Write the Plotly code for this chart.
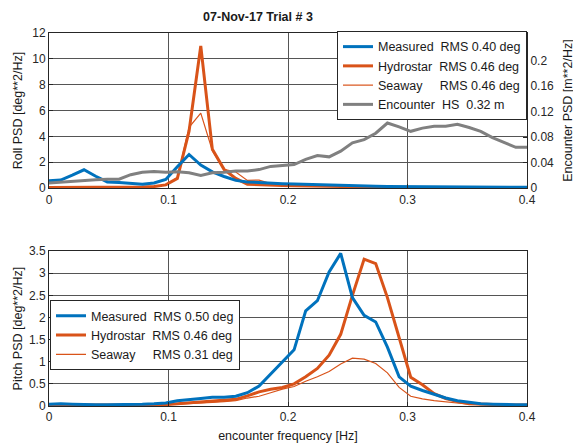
import plotly.graph_objects as go

# ---------------- data ----------------
freqs = [0.0000, 0.0098, 0.0195, 0.0293, 0.0391, 0.0488, 0.0586, 0.0684, 0.0781, 0.0879,
         0.0977, 0.1074, 0.1172, 0.1270, 0.1367, 0.1465, 0.1563, 0.1660, 0.1758, 0.1855,
         0.1953, 0.2051, 0.2148, 0.2246, 0.2344, 0.2441, 0.2539, 0.2637, 0.2734, 0.2832,
         0.2930, 0.3027, 0.3125, 0.3223, 0.3320, 0.3418, 0.3516, 0.3613, 0.3711, 0.3809,
         0.3906, 0.4004]

roll_measured = [0.57, 0.62, 1.00, 1.42, 0.92, 0.48, 0.43, 0.37, 0.30, 0.40,
                 0.67, 1.65, 2.60, 1.78, 1.26, 0.90, 0.60, 0.48, 0.42, 0.38,
                 0.34, 0.31, 0.28, 0.25, 0.22, 0.20, 0.18, 0.17, 0.15, 0.13,
                 0.12, 0.11, 0.10, 0.10, 0.09, 0.09, 0.08, 0.08, 0.07, 0.07,
                 0.07, 0.07]
roll_hydrostar = [0.05, 0.05, 0.06, 0.07, 0.07, 0.06, 0.06, 0.07, 0.09, 0.12,
                  0.25, 0.75, 4.40, 11.00, 3.00, 1.45, 0.75, 0.30, 0.25, 0.22,
                  0.20, 0.18, 0.17, 0.15, 0.14, 0.13, 0.12, 0.10, 0.05, 0.03,
                  0.03, 0.03, 0.02, 0.02, 0.02, 0.02, 0.02, 0.02, 0.02, 0.02,
                  0.02, 0.02]
roll_seaway = [0.08, 0.08, 0.10, 0.12, 0.12, 0.10, 0.08, 0.08, 0.09, 0.12,
               0.25, 0.80, 4.70, 5.80, 2.90, 1.45, 1.25, 0.60, 0.62, 0.35,
               0.28, 0.24, 0.22, 0.20, 0.18, 0.16, 0.15, 0.14, 0.13, 0.12,
               0.12, 0.11, 0.06, 0.04, 0.03, 0.03, 0.03, 0.03, 0.03, 0.03,
               0.03, 0.03]
encounter_psd = [0.008, 0.0095, 0.0105, 0.012, 0.013, 0.014, 0.014, 0.021, 0.025, 0.026,
                 0.025, 0.0255, 0.024, 0.020, 0.024, 0.025, 0.027, 0.027, 0.029, 0.034,
                 0.035, 0.037, 0.045, 0.051, 0.049, 0.058, 0.071, 0.076, 0.086, 0.102,
                 0.096, 0.089, 0.094, 0.097, 0.097, 0.100, 0.095, 0.089, 0.079, 0.072,
                 0.064, 0.064]

pitch_measured = [0.04, 0.05, 0.04, 0.03, 0.03, 0.03, 0.03, 0.03, 0.04, 0.05,
                  0.07, 0.12, 0.14, 0.17, 0.20, 0.20, 0.22, 0.30, 0.45, 0.72,
                  0.98, 1.27, 2.15, 2.38, 3.03, 3.45, 2.45, 2.05, 1.90, 1.33,
                  0.66, 0.45, 0.35, 0.26, 0.18, 0.12, 0.08, 0.05, 0.04, 0.03,
                  0.03, 0.03]
pitch_hydrostar = [0.02, 0.02, 0.02, 0.02, 0.02, 0.02, 0.02, 0.02, 0.02, 0.02,
                   0.03, 0.05, 0.07, 0.09, 0.11, 0.13, 0.15, 0.23, 0.32, 0.38,
                   0.42, 0.50, 0.66, 0.85, 1.15, 1.62, 2.50, 3.32, 3.22, 2.45,
                   1.55, 0.65, 0.48, 0.28, 0.17, 0.10, 0.05, 0.04, 0.03, 0.02,
                   0.02, 0.02]
pitch_seaway = [0.02, 0.02, 0.02, 0.02, 0.02, 0.02, 0.02, 0.02, 0.02, 0.02,
                0.03, 0.04, 0.05, 0.06, 0.08, 0.10, 0.12, 0.18, 0.22, 0.30,
                0.38, 0.44, 0.56, 0.66, 0.78, 0.95, 1.08, 1.06, 0.96, 0.75,
                0.42, 0.22, 0.16, 0.12, 0.09, 0.06, 0.04, 0.03, 0.02, 0.02,
                0.02, 0.02]

roll_labels = ["Measured&nbsp;&nbsp;RMS 0.40 deg",
               "Hydrostar&nbsp;&nbsp;RMS 0.46 deg",
               "Seaway&nbsp;&nbsp;&nbsp;&nbsp;&nbsp;RMS 0.46 deg",
               "Encounter&nbsp;&nbsp;HS&nbsp;&nbsp;0.32 m"]
pitch_labels = ["Measured&nbsp;&nbsp;RMS 0.50 deg",
                "Hydrostar&nbsp;&nbsp;RMS 0.46 deg",
                "Seaway&nbsp;&nbsp;&nbsp;&nbsp;&nbsp;RMS 0.31 deg"]

title_text = "07-Nov-17 Trial # 3"
x_ticks = [0, 0.1, 0.2, 0.3, 0.4]
roll_ticks = [0, 2, 4, 6, 8, 10, 12]
enc_ticks = [0, 0.04, 0.08, 0.12, 0.16, 0.2]
enc_tick_text = ["0", "0.04", "0.08", "0.12", "0.16", "0.2"]
pitch_ticks = [0, 0.5, 1, 1.5, 2, 2.5, 3, 3.5]

# ---------------- style ----------------
BLUE = "#0072BD"
ORANGE = "#D95319"
GRAY = "#808080"
AX = "#262626"
GRID = "#555555"
TXT = "#1a1a1a"
FONT = "Liberation Sans, Arial, Helvetica, sans-serif"

fig = go.Figure()

# top panel (roll)
fig.add_trace(go.Scatter(x=freqs, y=roll_hydrostar, mode="lines", name=roll_labels[1],
                         line=dict(color=ORANGE, width=3), xaxis="x", yaxis="y",
                         legend="legend", legendrank=2))
fig.add_trace(go.Scatter(x=freqs, y=roll_seaway, mode="lines", name=roll_labels[2],
                         line=dict(color=ORANGE, width=1.2), xaxis="x", yaxis="y",
                         legend="legend", legendrank=3))
fig.add_trace(go.Scatter(x=freqs, y=roll_measured, mode="lines", name=roll_labels[0],
                         line=dict(color=BLUE, width=3), xaxis="x", yaxis="y",
                         legend="legend", legendrank=1))
fig.add_trace(go.Scatter(x=freqs, y=encounter_psd, mode="lines", name=roll_labels[3],
                         line=dict(color=GRAY, width=3), xaxis="x", yaxis="y2",
                         legend="legend", legendrank=4))

# bottom panel (pitch)
fig.add_trace(go.Scatter(x=freqs, y=pitch_hydrostar, mode="lines", name=pitch_labels[1],
                         line=dict(color=ORANGE, width=3), xaxis="x2", yaxis="y3",
                         legend="legend2", legendrank=2))
fig.add_trace(go.Scatter(x=freqs, y=pitch_seaway, mode="lines", name=pitch_labels[2],
                         line=dict(color=ORANGE, width=1.2), xaxis="x2", yaxis="y3",
                         legend="legend2", legendrank=3))
fig.add_trace(go.Scatter(x=freqs, y=pitch_measured, mode="lines", name=pitch_labels[0],
                         line=dict(color=BLUE, width=3), xaxis="x2", yaxis="y3",
                         legend="legend2", legendrank=1))

# The page body has an 8px margin, so positions are expressed in page pixels
# and converted by removing that offset.
OFF = 8
W, H = 581, 445
PL, PR, PT, PB = 49, 527, 33, 405.7          # plot block edges in page pixels
L = PL - OFF
R = W - (PR - OFF)
T = PT - OFF
B = H - (PB - OFF)


def py2paper(py):
    return (PB - py) / (PB - PT)


def px2paper(px):
    return (px - PL) / (PR - PL)


axis_common = dict(showline=True, linecolor=AX, linewidth=1, ticks="inside", ticklen=4,
                   tickcolor=AX, zeroline=False, tickfont=dict(size=12, color=AX, family=FONT),
                   gridcolor=GRID, gridwidth=1)
title_font = dict(size=12.5, color=TXT, family=FONT)
legend_common = dict(bgcolor="white", bordercolor=AX, borderwidth=1,
                     font=dict(size=12.5, color=TXT, family=FONT),
                     itemwidth=30, tracegroupgap=0, traceorder="normal")

fig.update_layout(
    width=W, height=H, template="none",
    paper_bgcolor="white", plot_bgcolor="white",
    margin=dict(l=L, r=R, t=T, b=B),
    font=dict(family=FONT, color=AX),
    title=dict(text="<b>" + title_text + "</b>", x=(258 - OFF) / W, xref="container",
               xanchor="center", y=1 - (17 - OFF) / H, yref="container", yanchor="middle",
               font=dict(size=12.5, color=TXT, family=FONT)),
    xaxis=dict(domain=[0, 1], anchor="y", range=[0, 0.4], tickvals=x_ticks,
               showgrid=True, mirror=True, **axis_common),
    yaxis=dict(domain=[py2paper(188), 1], anchor="x", range=[0, 12], tickvals=roll_ticks,
               showgrid=True, mirror=True,
               title=dict(text="Roll PSD [deg**2/Hz]", standoff=6, font=title_font),
               **axis_common),
    yaxis2=dict(overlaying="y", side="right", anchor="x", range=[0, 0.243], tickvals=enc_ticks,
                ticktext=enc_tick_text, showgrid=False,
                title=dict(text="Encounter PSD [m**2/Hz]", standoff=10, font=title_font),
                **axis_common),
    xaxis2=dict(domain=[0, 1], anchor="y3", range=[0, 0.4], tickvals=x_ticks,
                showgrid=True, mirror=True,
                title=dict(text="encounter frequency [Hz]", standoff=7, font=title_font),
                **axis_common),
    yaxis3=dict(domain=[0, py2paper(251)], anchor="x2", range=[0, 3.5], tickvals=pitch_ticks,
                showgrid=True, mirror=True,
                title=dict(text="Pitch PSD [deg**2/Hz]", standoff=3, font=title_font),
                **axis_common),
    legend=dict(x=1, xanchor="right", y=py2paper(31), yanchor="top", **legend_common),
    legend2=dict(x=px2paper(50), xanchor="left", y=py2paper(300), yanchor="top",
                 **legend_common),
    showlegend=True,
)

fig.write_html("out.html")
